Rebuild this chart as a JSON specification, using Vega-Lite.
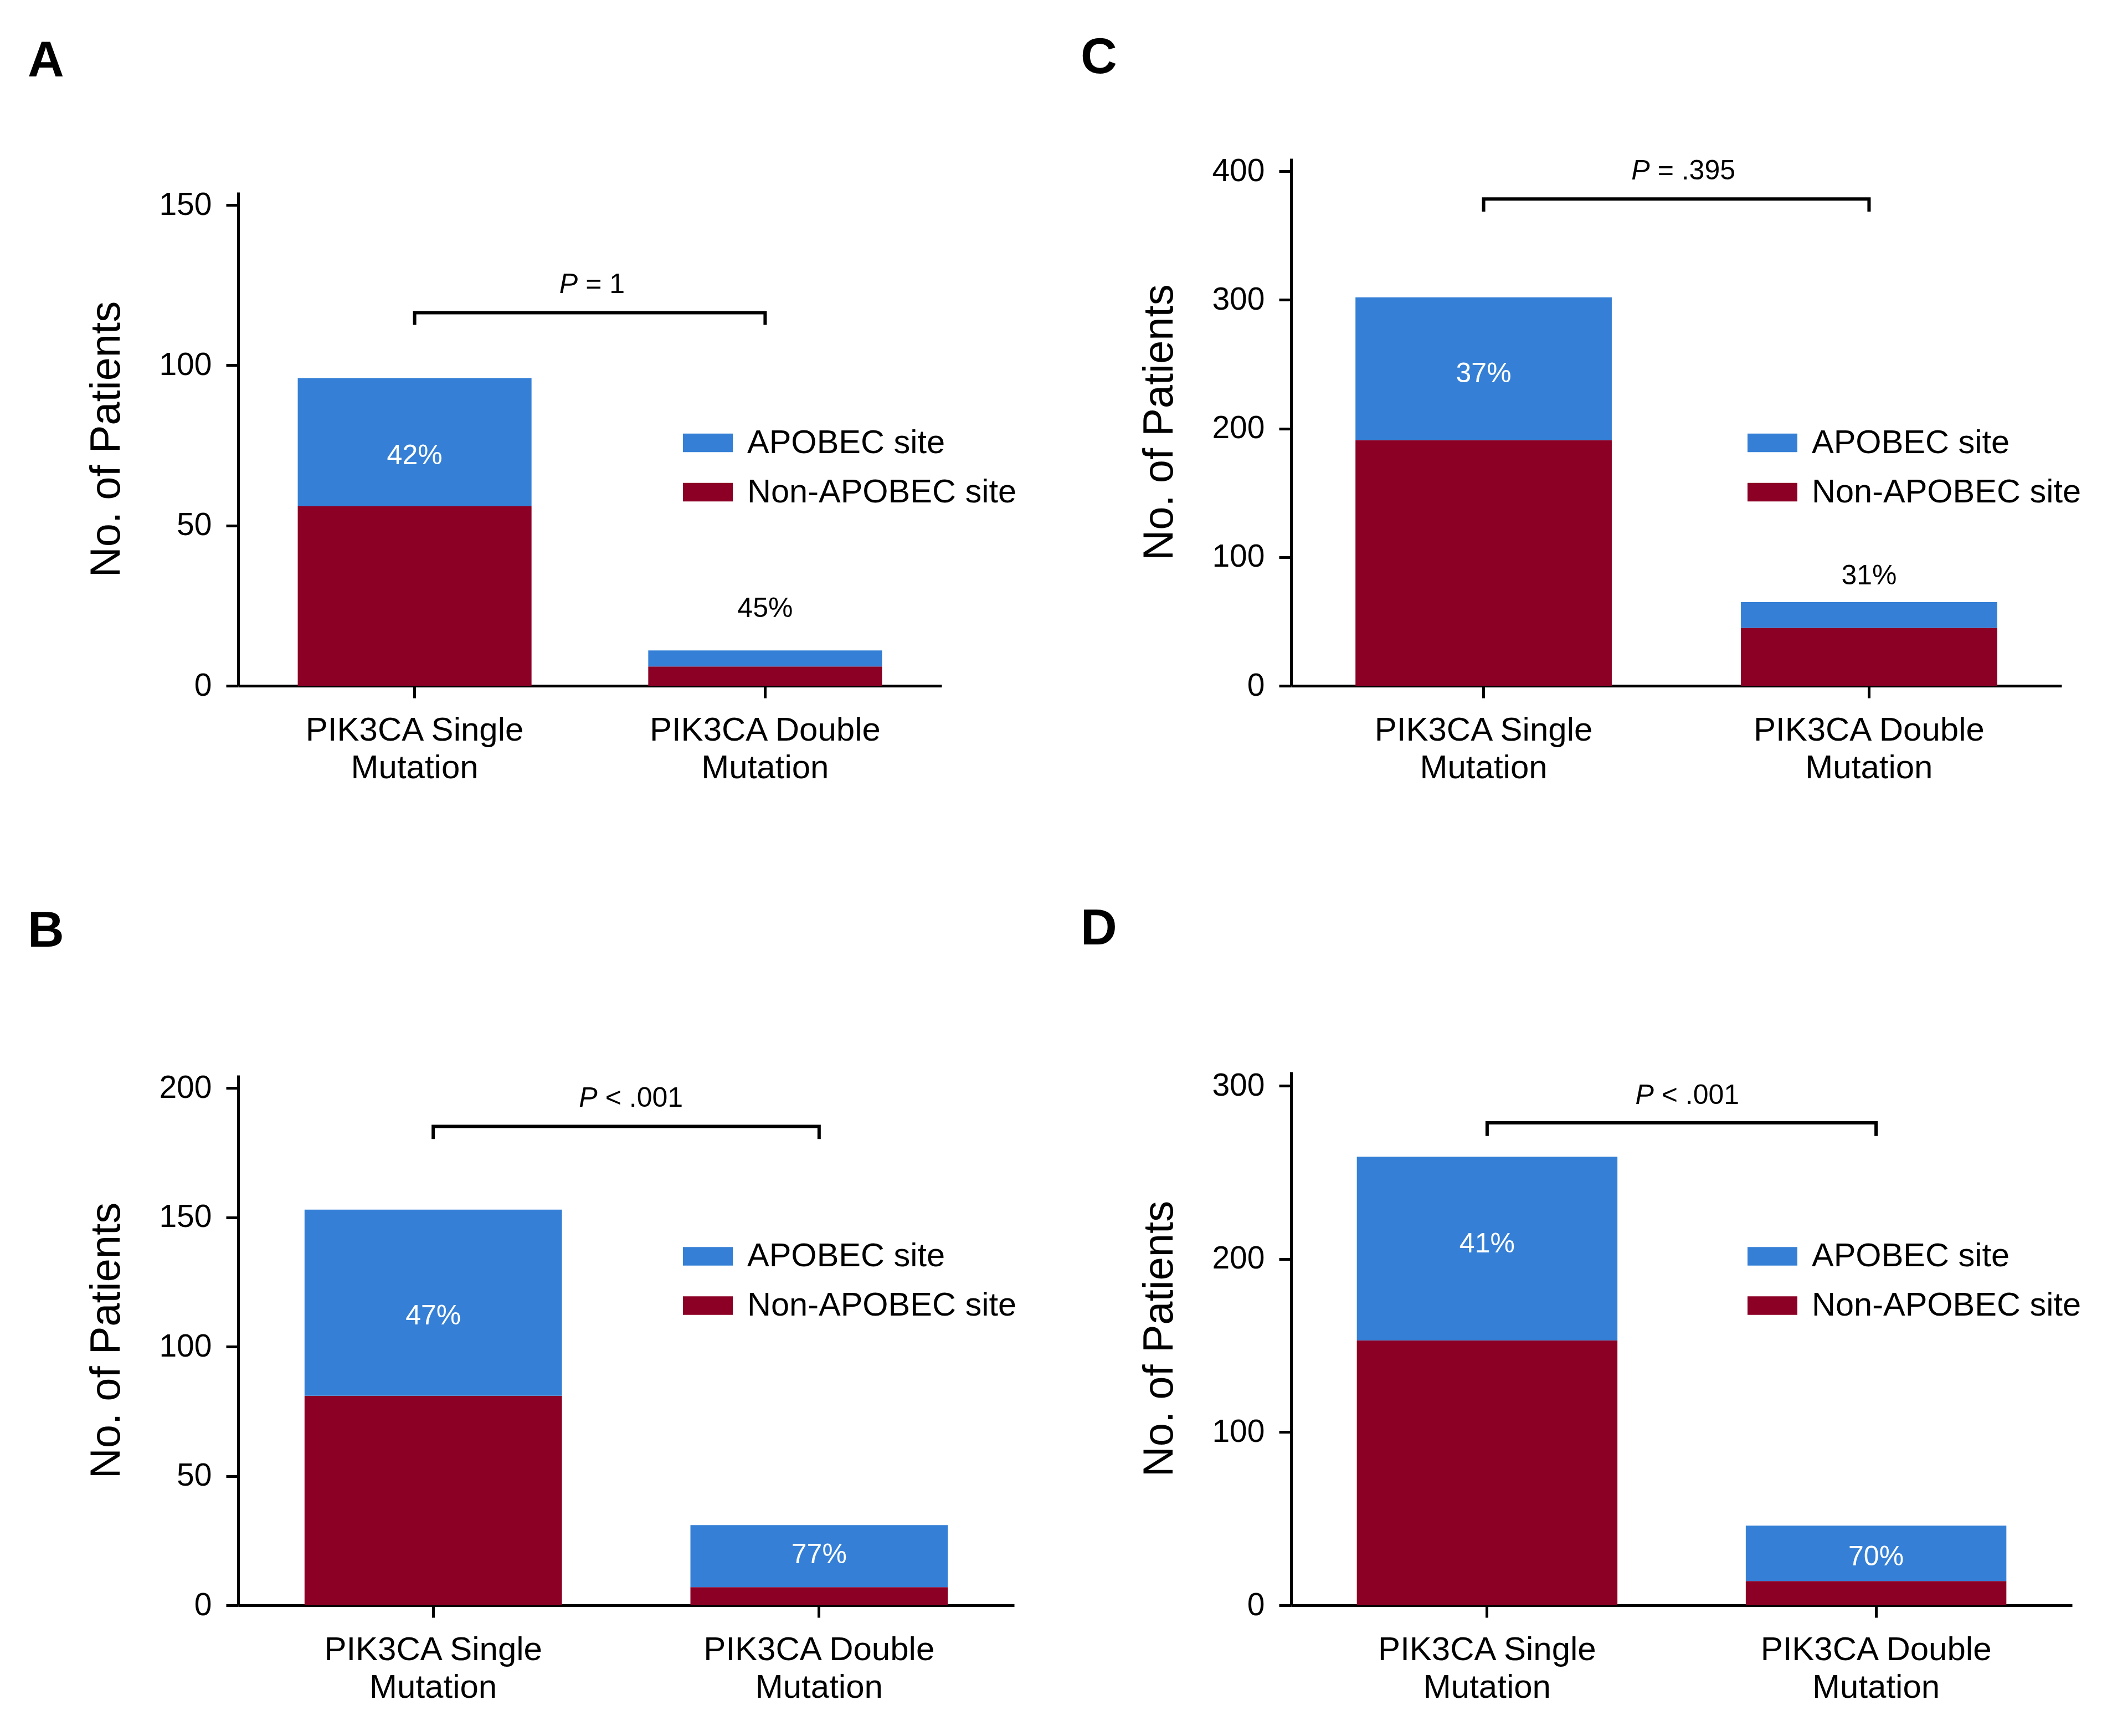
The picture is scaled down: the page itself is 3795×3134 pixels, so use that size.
{
  "$schema": "https://vega.github.io/schema/vega-lite/v6.json",
  "background": "white",
  "padding": {"left": 50, "top": 59, "right": 0, "bottom": 0},
  "columns": 2,
  "align": "each",
  "bounds": "full",
  "spacing": {"row": 216, "column": 115},
  "datasets": {
    "bars": [
      {"panel": "A", "category": "PIK3CA Single Mutation", "site": "Non-APOBEC site", "count": 56},
      {"panel": "A", "category": "PIK3CA Single Mutation", "site": "APOBEC site", "count": 40},
      {"panel": "A", "category": "PIK3CA Double Mutation", "site": "Non-APOBEC site", "count": 6},
      {"panel": "A", "category": "PIK3CA Double Mutation", "site": "APOBEC site", "count": 5},
      {"panel": "B", "category": "PIK3CA Single Mutation", "site": "Non-APOBEC site", "count": 81},
      {"panel": "B", "category": "PIK3CA Single Mutation", "site": "APOBEC site", "count": 72},
      {"panel": "B", "category": "PIK3CA Double Mutation", "site": "Non-APOBEC site", "count": 7},
      {"panel": "B", "category": "PIK3CA Double Mutation", "site": "APOBEC site", "count": 24},
      {"panel": "C", "category": "PIK3CA Single Mutation", "site": "Non-APOBEC site", "count": 191},
      {"panel": "C", "category": "PIK3CA Single Mutation", "site": "APOBEC site", "count": 111},
      {"panel": "C", "category": "PIK3CA Double Mutation", "site": "Non-APOBEC site", "count": 45},
      {"panel": "C", "category": "PIK3CA Double Mutation", "site": "APOBEC site", "count": 20},
      {"panel": "D", "category": "PIK3CA Single Mutation", "site": "Non-APOBEC site", "count": 153},
      {"panel": "D", "category": "PIK3CA Single Mutation", "site": "APOBEC site", "count": 106},
      {"panel": "D", "category": "PIK3CA Double Mutation", "site": "Non-APOBEC site", "count": 14},
      {"panel": "D", "category": "PIK3CA Double Mutation", "site": "APOBEC site", "count": 32}
    ],
    "pctInside": [
      {"panel": "A", "category": "PIK3CA Single Mutation", "label": "42%", "y": 69.1},
      {"panel": "C", "category": "PIK3CA Single Mutation", "label": "37%", "y": 236},
      {"panel": "B", "category": "PIK3CA Single Mutation", "label": "47%", "y": 108.7},
      {"panel": "B", "category": "PIK3CA Double Mutation", "label": "77%", "y": 16.3},
      {"panel": "D", "category": "PIK3CA Single Mutation", "label": "41%", "y": 203.8},
      {"panel": "D", "category": "PIK3CA Double Mutation", "label": "70%", "y": 23}
    ],
    "pctAbove": [
      {"panel": "A", "category": "PIK3CA Double Mutation", "label": "45%", "y": 21.5},
      {"panel": "C", "category": "PIK3CA Double Mutation", "label": "31%", "y": 78.8}
    ],
    "brackets": [
      {"panel": "A", "category": "PIK3CA Single Mutation", "y": 112.6, "step": 1},
      {"panel": "A", "category": "PIK3CA Single Mutation", "y": 116.4, "step": 2},
      {"panel": "A", "category": "PIK3CA Double Mutation", "y": 116.4, "step": 3},
      {"panel": "A", "category": "PIK3CA Double Mutation", "y": 112.6, "step": 4},
      {"panel": "C", "category": "PIK3CA Single Mutation", "y": 368.7, "step": 1},
      {"panel": "C", "category": "PIK3CA Single Mutation", "y": 378.5, "step": 2},
      {"panel": "C", "category": "PIK3CA Double Mutation", "y": 378.5, "step": 3},
      {"panel": "C", "category": "PIK3CA Double Mutation", "y": 368.7, "step": 4},
      {"panel": "B", "category": "PIK3CA Single Mutation", "y": 180.3, "step": 1},
      {"panel": "B", "category": "PIK3CA Single Mutation", "y": 185.2, "step": 2},
      {"panel": "B", "category": "PIK3CA Double Mutation", "y": 185.2, "step": 3},
      {"panel": "B", "category": "PIK3CA Double Mutation", "y": 180.3, "step": 4},
      {"panel": "D", "category": "PIK3CA Single Mutation", "y": 271, "step": 1},
      {"panel": "D", "category": "PIK3CA Single Mutation", "y": 278.6, "step": 2},
      {"panel": "D", "category": "PIK3CA Double Mutation", "y": 278.6, "step": 3},
      {"panel": "D", "category": "PIK3CA Double Mutation", "y": 271, "step": 4}
    ],
    "pvalues": [
      {"panel": "A", "category": "PIK3CA Single Mutation", "p": "P", "rest": "= 1", "y": 122.5},
      {"panel": "C", "category": "PIK3CA Single Mutation", "p": "P", "rest": "= .395", "y": 393.5},
      {"panel": "B", "category": "PIK3CA Single Mutation", "p": "P", "rest": "< .001", "y": 192.8},
      {"panel": "D", "category": "PIK3CA Single Mutation", "p": "P", "rest": "< .001", "y": 289.6}
    ]
  },
  "concat": [
    {
      "title": {"text": "A", "dx": -380, "offset": 129},
      "width": 1270, "height": 952,
      "layer": [
        {"data": {"name": "bars"}, "transform": [{"filter": "datum.panel === 'A'"}],
         "mark": {"type": "bar"},
         "encoding": {
           "x": {"field": "category", "type": "nominal", "sort": ["PIK3CA Single Mutation", "PIK3CA Double Mutation"], "title": null,
                 "scale": {"paddingInner": 0.333, "paddingOuter": 0.17},
                 "axis": {"labelExpr": "[replace(datum.label, ' Mutation', ''), 'Mutation']"}},
           "y": {"field": "count", "type": "quantitative", "stack": "zero", "title": "No. of Patients",
                 "scale": {"domain": [0, 154], "nice": false, "zero": true, "range": [952, 61]},
                 "axis": {"values": [0, 50, 100, 150]}},
           "color": {"field": "site", "type": "nominal",
                     "scale": {"domain": ["APOBEC site", "Non-APOBEC site"], "range": ["#3580D6", "#8B0024"]},
                     "legend": {"legendX": 803, "legendY": 468.5}},
           "order": {"field": "site", "sort": "descending"}
         }},
        {"data": {"name": "pctInside"}, "transform": [{"filter": "datum.panel === 'A'"}],
         "mark": {"type": "text", "color": "white", "fontSize": 50, "baseline": "alphabetic"},
         "encoding": {
           "x": {"field": "category", "type": "nominal", "sort": ["PIK3CA Single Mutation", "PIK3CA Double Mutation"], "title": null},
           "y": {"field": "y", "type": "quantitative", "title": "No. of Patients"},
           "text": {"field": "label"}
         }},
        {"data": {"name": "pctAbove"}, "transform": [{"filter": "datum.panel === 'A'"}],
         "mark": {"type": "text", "color": "black", "fontSize": 50, "baseline": "alphabetic"},
         "encoding": {
           "x": {"field": "category", "type": "nominal", "sort": ["PIK3CA Single Mutation", "PIK3CA Double Mutation"], "title": null},
           "y": {"field": "y", "type": "quantitative", "title": "No. of Patients"},
           "text": {"field": "label"}
         }},
        {"data": {"name": "brackets"}, "transform": [{"filter": "datum.panel === 'A'"}],
         "mark": {"type": "line", "color": "black", "strokeWidth": 6, "strokeCap": "butt", "strokeJoin": "miter"},
         "encoding": {
           "x": {"field": "category", "type": "nominal", "sort": ["PIK3CA Single Mutation", "PIK3CA Double Mutation"], "title": null},
           "y": {"field": "y", "type": "quantitative", "title": "No. of Patients"},
           "order": {"field": "step", "type": "quantitative"}
         }},
        {"data": {"name": "pvalues"}, "transform": [{"filter": "datum.panel === 'A'"}],
         "mark": {"type": "text", "color": "black", "fontSize": 50, "fontStyle": "italic", "baseline": "alphabetic", "align": "right", "dx": -22},
         "encoding": {
           "x": {"field": "category", "type": "nominal", "sort": ["PIK3CA Single Mutation", "PIK3CA Double Mutation"], "title": null, "bandPosition": 1.25},
           "y": {"field": "y", "type": "quantitative", "title": "No. of Patients"},
           "text": {"field": "p"}
         }},
        {"data": {"name": "pvalues"}, "transform": [{"filter": "datum.panel === 'A'"}],
         "mark": {"type": "text", "color": "black", "fontSize": 50, "baseline": "alphabetic", "align": "left", "dx": -8},
         "encoding": {
           "x": {"field": "category", "type": "nominal", "sort": ["PIK3CA Single Mutation", "PIK3CA Double Mutation"], "title": null, "bandPosition": 1.25},
           "y": {"field": "y", "type": "quantitative", "title": "No. of Patients"},
           "text": {"field": "rest"}
         }}
      ]
    },
    {
      "title": {"text": "C", "dx": -380, "offset": 129},
      "width": 1391, "height": 952,
      "layer": [
        {"data": {"name": "bars"}, "transform": [{"filter": "datum.panel === 'C'"}],
         "mark": {"type": "bar"},
         "encoding": {
           "x": {"field": "category", "type": "nominal", "sort": ["PIK3CA Single Mutation", "PIK3CA Double Mutation"], "title": null,
                 "scale": {"paddingInner": 0.335, "paddingOuter": 0.167},
                 "axis": {"labelExpr": "[replace(datum.label, ' Mutation', ''), 'Mutation']"}},
           "y": {"field": "count", "type": "quantitative", "stack": "zero", "title": "No. of Patients",
                 "scale": {"domain": [0, 410], "nice": false, "zero": true},
                 "axis": {"values": [0, 100, 200, 300, 400]}},
           "color": {"field": "site", "type": "nominal",
                     "scale": {"domain": ["APOBEC site", "Non-APOBEC site"], "range": ["#3580D6", "#8B0024"]},
                     "legend": {"legendX": 824, "legendY": 468.5}},
           "order": {"field": "site", "sort": "descending"}
         }},
        {"data": {"name": "pctInside"}, "transform": [{"filter": "datum.panel === 'C'"}],
         "mark": {"type": "text", "color": "white", "fontSize": 50, "baseline": "alphabetic"},
         "encoding": {
           "x": {"field": "category", "type": "nominal", "sort": ["PIK3CA Single Mutation", "PIK3CA Double Mutation"], "title": null},
           "y": {"field": "y", "type": "quantitative", "title": "No. of Patients"},
           "text": {"field": "label"}
         }},
        {"data": {"name": "pctAbove"}, "transform": [{"filter": "datum.panel === 'C'"}],
         "mark": {"type": "text", "color": "black", "fontSize": 50, "baseline": "alphabetic"},
         "encoding": {
           "x": {"field": "category", "type": "nominal", "sort": ["PIK3CA Single Mutation", "PIK3CA Double Mutation"], "title": null},
           "y": {"field": "y", "type": "quantitative", "title": "No. of Patients"},
           "text": {"field": "label"}
         }},
        {"data": {"name": "brackets"}, "transform": [{"filter": "datum.panel === 'C'"}],
         "mark": {"type": "line", "color": "black", "strokeWidth": 6, "strokeCap": "butt", "strokeJoin": "miter"},
         "encoding": {
           "x": {"field": "category", "type": "nominal", "sort": ["PIK3CA Single Mutation", "PIK3CA Double Mutation"], "title": null},
           "y": {"field": "y", "type": "quantitative", "title": "No. of Patients"},
           "order": {"field": "step", "type": "quantitative"}
         }},
        {"data": {"name": "pvalues"}, "transform": [{"filter": "datum.panel === 'C'"}],
         "mark": {"type": "text", "color": "black", "fontSize": 50, "fontStyle": "italic", "baseline": "alphabetic", "align": "right", "dx": -47},
         "encoding": {
           "x": {"field": "category", "type": "nominal", "sort": ["PIK3CA Single Mutation", "PIK3CA Double Mutation"], "title": null, "bandPosition": 1.25},
           "y": {"field": "y", "type": "quantitative", "title": "No. of Patients"},
           "text": {"field": "p"}
         }},
        {"data": {"name": "pvalues"}, "transform": [{"filter": "datum.panel === 'C'"}],
         "mark": {"type": "text", "color": "black", "fontSize": 50, "baseline": "alphabetic", "align": "left", "dx": -33},
         "encoding": {
           "x": {"field": "category", "type": "nominal", "sort": ["PIK3CA Single Mutation", "PIK3CA Double Mutation"], "title": null, "bandPosition": 1.25},
           "y": {"field": "y", "type": "quantitative", "title": "No. of Patients"},
           "text": {"field": "rest"}
         }}
      ]
    },
    {
      "title": {"text": "B", "dx": -380, "offset": 207},
      "width": 1401, "height": 963,
      "layer": [
        {"data": {"name": "bars"}, "transform": [{"filter": "datum.panel === 'B'"}],
         "mark": {"type": "bar"},
         "encoding": {
           "x": {"field": "category", "type": "nominal", "sort": ["PIK3CA Single Mutation", "PIK3CA Double Mutation"], "title": null,
                 "scale": {"paddingInner": 0.333, "paddingOuter": 0.172},
                 "axis": {"labelExpr": "[replace(datum.label, ' Mutation', ''), 'Mutation']"}},
           "y": {"field": "count", "type": "quantitative", "stack": "zero", "title": "No. of Patients",
                 "scale": {"domain": [0, 205], "nice": false, "zero": true, "range": [963, 6]},
                 "axis": {"values": [0, 50, 100, 150, 200]}},
           "color": {"field": "site", "type": "nominal",
                     "scale": {"domain": ["APOBEC site", "Non-APOBEC site"], "range": ["#3580D6", "#8B0024"]},
                     "legend": {"legendX": 803, "legendY": 288}},
           "order": {"field": "site", "sort": "descending"}
         }},
        {"data": {"name": "pctInside"}, "transform": [{"filter": "datum.panel === 'B'"}],
         "mark": {"type": "text", "color": "white", "fontSize": 50, "baseline": "alphabetic"},
         "encoding": {
           "x": {"field": "category", "type": "nominal", "sort": ["PIK3CA Single Mutation", "PIK3CA Double Mutation"], "title": null},
           "y": {"field": "y", "type": "quantitative", "title": "No. of Patients"},
           "text": {"field": "label"}
         }},
        {"data": {"name": "brackets"}, "transform": [{"filter": "datum.panel === 'B'"}],
         "mark": {"type": "line", "color": "black", "strokeWidth": 6, "strokeCap": "butt", "strokeJoin": "miter"},
         "encoding": {
           "x": {"field": "category", "type": "nominal", "sort": ["PIK3CA Single Mutation", "PIK3CA Double Mutation"], "title": null},
           "y": {"field": "y", "type": "quantitative", "title": "No. of Patients"},
           "order": {"field": "step", "type": "quantitative"}
         }},
        {"data": {"name": "pvalues"}, "transform": [{"filter": "datum.panel === 'B'"}],
         "mark": {"type": "text", "color": "black", "fontSize": 50, "fontStyle": "italic", "baseline": "alphabetic", "align": "right", "dx": -52},
         "encoding": {
           "x": {"field": "category", "type": "nominal", "sort": ["PIK3CA Single Mutation", "PIK3CA Double Mutation"], "title": null, "bandPosition": 1.25},
           "y": {"field": "y", "type": "quantitative", "title": "No. of Patients"},
           "text": {"field": "p"}
         }},
        {"data": {"name": "pvalues"}, "transform": [{"filter": "datum.panel === 'B'"}],
         "mark": {"type": "text", "color": "black", "fontSize": 50, "baseline": "alphabetic", "align": "left", "dx": -38},
         "encoding": {
           "x": {"field": "category", "type": "nominal", "sort": ["PIK3CA Single Mutation", "PIK3CA Double Mutation"], "title": null, "bandPosition": 1.25},
           "y": {"field": "y", "type": "quantitative", "title": "No. of Patients"},
           "text": {"field": "rest"}
         }}
      ]
    },
    {
      "title": {"text": "D", "dx": -380, "offset": 207},
      "width": 1410, "height": 963,
      "layer": [
        {"data": {"name": "bars"}, "transform": [{"filter": "datum.panel === 'D'"}],
         "mark": {"type": "bar"},
         "encoding": {
           "x": {"field": "category", "type": "nominal", "sort": ["PIK3CA Single Mutation", "PIK3CA Double Mutation"], "title": null,
                 "scale": {"paddingInner": 0.33, "paddingOuter": 0.169},
                 "axis": {"labelExpr": "[replace(datum.label, ' Mutation', ''), 'Mutation']"}},
           "y": {"field": "count", "type": "quantitative", "stack": "zero", "title": "No. of Patients",
                 "scale": {"domain": [0, 308], "nice": false, "zero": true},
                 "axis": {"values": [0, 100, 200, 300]}},
           "color": {"field": "site", "type": "nominal",
                     "scale": {"domain": ["APOBEC site", "Non-APOBEC site"], "range": ["#3580D6", "#8B0024"]},
                     "legend": {"legendX": 824, "legendY": 288}},
           "order": {"field": "site", "sort": "descending"}
         }},
        {"data": {"name": "pctInside"}, "transform": [{"filter": "datum.panel === 'D'"}],
         "mark": {"type": "text", "color": "white", "fontSize": 50, "baseline": "alphabetic"},
         "encoding": {
           "x": {"field": "category", "type": "nominal", "sort": ["PIK3CA Single Mutation", "PIK3CA Double Mutation"], "title": null},
           "y": {"field": "y", "type": "quantitative", "title": "No. of Patients"},
           "text": {"field": "label"}
         }},
        {"data": {"name": "brackets"}, "transform": [{"filter": "datum.panel === 'D'"}],
         "mark": {"type": "line", "color": "black", "strokeWidth": 6, "strokeCap": "butt", "strokeJoin": "miter"},
         "encoding": {
           "x": {"field": "category", "type": "nominal", "sort": ["PIK3CA Single Mutation", "PIK3CA Double Mutation"], "title": null},
           "y": {"field": "y", "type": "quantitative", "title": "No. of Patients"},
           "order": {"field": "step", "type": "quantitative"}
         }},
        {"data": {"name": "pvalues"}, "transform": [{"filter": "datum.panel === 'D'"}],
         "mark": {"type": "text", "color": "black", "fontSize": 50, "fontStyle": "italic", "baseline": "alphabetic", "align": "right", "dx": -52},
         "encoding": {
           "x": {"field": "category", "type": "nominal", "sort": ["PIK3CA Single Mutation", "PIK3CA Double Mutation"], "title": null, "bandPosition": 1.25},
           "y": {"field": "y", "type": "quantitative", "title": "No. of Patients"},
           "text": {"field": "p"}
         }},
        {"data": {"name": "pvalues"}, "transform": [{"filter": "datum.panel === 'D'"}],
         "mark": {"type": "text", "color": "black", "fontSize": 50, "baseline": "alphabetic", "align": "left", "dx": -38},
         "encoding": {
           "x": {"field": "category", "type": "nominal", "sort": ["PIK3CA Single Mutation", "PIK3CA Double Mutation"], "title": null, "bandPosition": 1.25},
           "y": {"field": "y", "type": "quantitative", "title": "No. of Patients"},
           "text": {"field": "rest"}
         }}
      ]
    }
  ],
  "resolve": {"scale": {"color": "independent"}, "legend": {"color": "independent"}},
  "config": {
    "font": "Liberation Sans",
    "view": {"stroke": null},
    "axis": {
      "domainColor": "black", "domainWidth": 5, "tickColor": "black", "tickWidth": 5, "tickSize": 22,
      "labelColor": "black", "labelFont": "Liberation Sans", "labelFontSize": 57, "grid": false,
      "titleColor": "black", "labelFlush": false, "labelLimit": 1000
    },
    "axisX": {"labelFontSize": 60, "labelPadding": 29, "labelLineHeight": 68, "labelAngle": 0},
    "axisY": {"labelPadding": 26, "titleFont": "Liberation Sans", "titleFontSize": 76, "titleFontWeight": "normal", "titlePadding": 55},
    "legend": {
      "orient": "none", "title": null, "padding": 0,
      "symbolType": "M-1,-0.37H1V0.37H-1Z", "symbolSize": 8100, "symbolStrokeWidth": 0, "symbolOpacity": 1,
      "labelFont": "Liberation Sans", "labelFontSize": 59.5, "labelColor": "black", "labelOffset": 26,
      "rowPadding": 14, "labelLimit": 1000
    },
    "title": {"anchor": "start", "frame": "group", "fontSize": 91, "fontWeight": "bold", "color": "black", "font": "Liberation Sans"}
  }
}
